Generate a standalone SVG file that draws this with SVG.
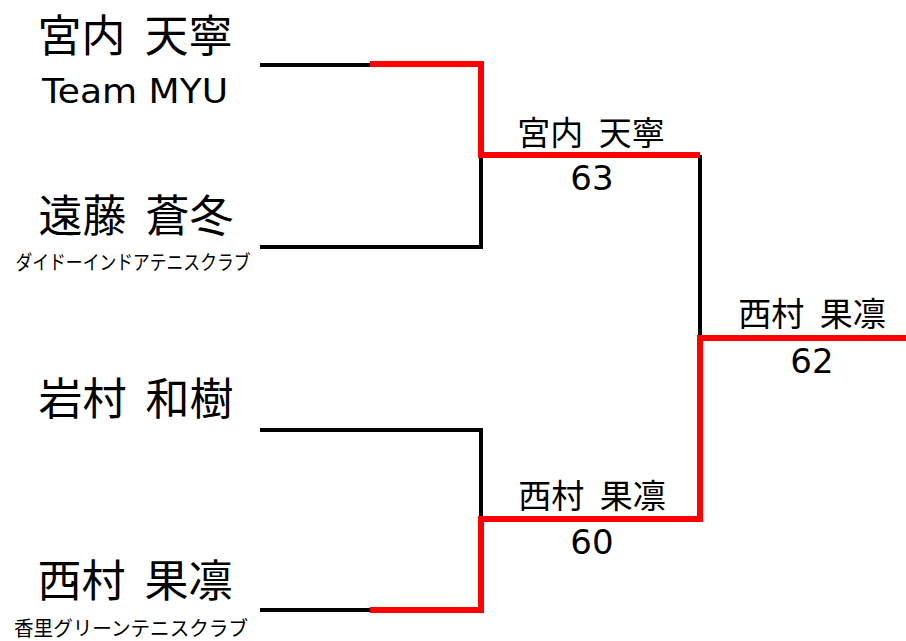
<svg xmlns="http://www.w3.org/2000/svg" width="906" height="641" viewBox="0 0 906 641">
<style>
.bk{stroke:#000;stroke-width:4;fill:none}
.rd{stroke:#ff0000;stroke-width:6;fill:none;stroke-linejoin:miter}
.nm{font-family:"Noto Sans CJK JP","Noto Sans",sans-serif;font-size:44px;fill:#000;text-anchor:middle;word-spacing:9px}
.wn{font-family:"Noto Sans CJK JP","Noto Sans",sans-serif;font-size:33px;fill:#000;text-anchor:middle;word-spacing:8px}
.sc{font-family:"DejaVu Sans","Noto Sans CJK JP",sans-serif;font-size:34px;fill:#000;text-anchor:middle}
.cl{font-family:"Noto Sans CJK JP",sans-serif;font-size:20px;fill:#000;text-anchor:middle}
</style>
<g id="connectors">
<path class="bk" d="M260 65H372"/>
<path class="bk" d="M260 247H481V155"/>
<path class="bk" d="M260 430H481V519"/>
<path class="bk" d="M260 610H372"/>
<path class="bk" d="M700 155V338"/>
<path class="rd" d="M370 64H481V155H700"/>
<path class="rd" d="M370 610H481V519H700V338H906"/>
</g>
<g id="p1">
<text class="nm" x="135" y="52">宮内 天寧</text>
<text class="sc" x="135" y="103" font-size="35" textLength="186" lengthAdjust="spacingAndGlyphs">Team MYU</text>
</g>
<g id="p2">
<text class="nm" x="136" y="232">遠藤 蒼冬</text>
<text class="cl" x="133" y="270" textLength="235" lengthAdjust="spacingAndGlyphs">ダイドーインドアテニスクラブ</text>
</g>
<g id="p3">
<text class="nm" x="136" y="415">岩村 和樹</text>
</g>
<g id="p4">
<text class="nm" x="135" y="597">西村 果凛</text>
<text class="cl" x="131" y="636" font-size="21" textLength="234" lengthAdjust="spacingAndGlyphs">香里グリーンテニスクラブ</text>
</g>
<g id="w1">
<text class="wn" x="591" y="145">宮内 天寧</text>
<text class="sc" x="592" y="190">63</text>
</g>
<g id="w2">
<text class="wn" x="592" y="508">西村 果凛</text>
<text class="sc" x="592" y="554">60</text>
</g>
<g id="w3">
<text class="wn" x="812" y="326">西村 果凛</text>
<text class="sc" x="812" y="373">62</text>
</g>
</svg>
